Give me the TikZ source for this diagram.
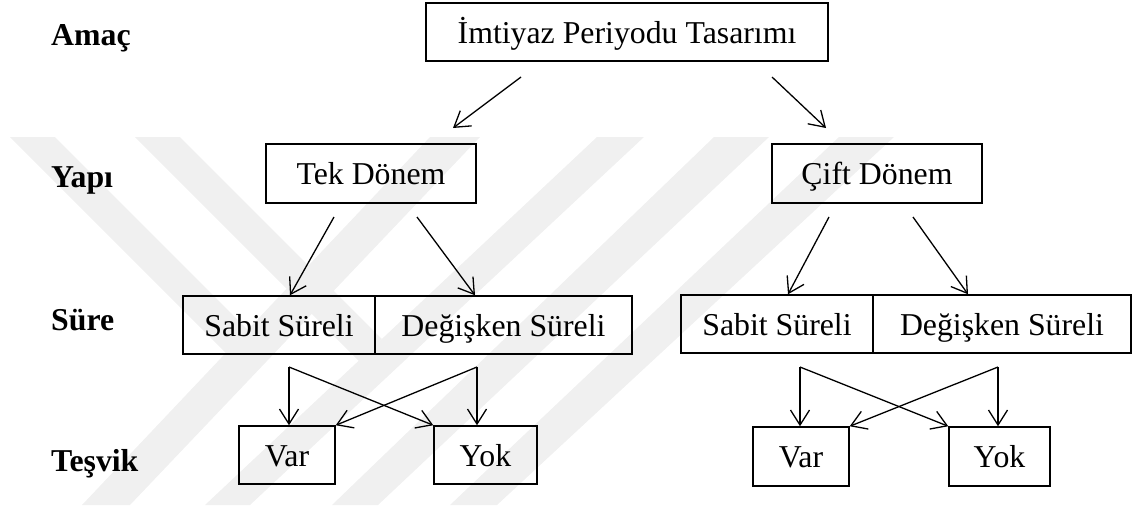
\documentclass[tikz,border=0pt]{standalone}
\usepackage{fontspec}
\setmainfont{Liberation Serif}
\usetikzlibrary{arrows.meta}

\begin{document}
\begin{tikzpicture}[x=1pt,y=-1pt,
  txt/.style={font=\fontsize{31.8}{36}\selectfont},
  box/.style={txt, draw, line width=1.5pt, inner sep=0pt,
              text height=29pt, text depth=7pt},
  lvl/.style={anchor=base west, inner sep=0pt,
              font=\fontsize{31.8}{36}\selectfont\bfseries},
  link/.style={line width=1.3pt,
               -{Straight Barb[length=15pt,width=19pt,line width=1.3pt]}},
  wm/.style={fill=black!6, draw=none}]

\useasboundingbox (0,0) rectangle (1134,509);

% faint background emblem
\fill[wm] (430,137) -- (480,137) -- (130,505) -- (82,505) -- cycle;
\fill[wm] (597,137) -- (644,137) -- (250,505) -- (205,505) -- cycle;
\fill[wm] (714,137) -- (769,137) -- (378,505) -- (332,505) -- cycle;
\fill[wm] (839,137) -- (894,137) -- (497,505) -- (450,505) -- cycle;
\fill[wm] (10,137) -- (55,137) -- (248,330) -- (226,353) -- cycle;
\fill[wm] (135,137) -- (180,137) -- (382,339) -- (359,361) -- cycle;

% level labels
\node[lvl] (lAmac)   at (51,45)  {Amaç};
\node[lvl] (lYapi)   at (51,187) {Yapı};
\node[lvl] (lSure)   at (51,330) {Süre};
\node[lvl] (lTesvik) at (51,471) {Teşvik};

% boxes
\node[box, minimum width=402pt, minimum height=58pt] (top)    at (627,32)    {İmtiyaz Periyodu Tasarımı};
\node[box, minimum width=210pt, minimum height=59pt] (tek)    at (371,173.5) {Tek Dönem};
\node[box, minimum width=210pt, minimum height=59pt] (cift)   at (877,173.5) {Çift Dönem};
\node[box, minimum width=192pt, minimum height=58pt] (sabitL) at (279,325)   {Sabit Süreli};
\node[box, minimum width=257pt, minimum height=58pt] (degL)   at (503.5,325) {Değişken Süreli};
\node[box, minimum width=192pt, minimum height=58pt] (sabitR) at (777,324)   {Sabit Süreli};
\node[box, minimum width=258pt, minimum height=58pt] (degR)   at (1002,324)  {Değişken Süreli};
\node[box, minimum width=96pt,  minimum height=58pt] (varL)   at (287,455)   {Var};
\node[box, minimum width=103pt, minimum height=58pt] (yokL)   at (485.5,455) {Yok};
\node[box, minimum width=96pt,  minimum height=59pt] (varR)   at (801,456.5) {Var};
\node[box, minimum width=101pt, minimum height=59pt] (yokR)   at (999.5,456.5) {Yok};

% free ends of the connectors
\coordinate (a1s) at (521,77);  \coordinate (a1e) at (453,128);
\coordinate (a2s) at (772,77);  \coordinate (a2e) at (826,128);
\coordinate (b1s) at (334,217); \coordinate (b2s) at (417,217);
\coordinate (b3s) at (829,217); \coordinate (b4s) at (913,217);
\coordinate (cL1) at (289,367); \coordinate (cL2) at (477,367);
\coordinate (cR1) at (800,367); \coordinate (cR2) at (998,367);

% connectors
\draw[link] (a1s) -- (a1e);
\draw[link] (a2s) -- (a2e);
\draw[link] (b1s) -- ([xshift=11pt]sabitL.north);
\draw[link] (b2s) -- ([xshift=-28.5pt]degL.north);
\draw[link] (b3s) -- ([xshift=11pt]sabitR.north);
\draw[link] (b4s) -- ([xshift=-34pt]degR.north);

\draw[link] (cL1) -- (cL1 |- varL.north);
\draw[link] (cL1) -- (yokL.north west);
\draw[link] (cL2) -- (cL2 |- yokL.north);
\draw[link] (cL2) -- (varL.north east);

\draw[link] (cR1) -- (cR1 |- varR.north);
\draw[link] (cR1) -- (yokR.north west);
\draw[link] (cR2) -- (cR2 |- yokR.north);
\draw[link] (cR2) -- (varR.north east);
\end{tikzpicture}
\end{document}
